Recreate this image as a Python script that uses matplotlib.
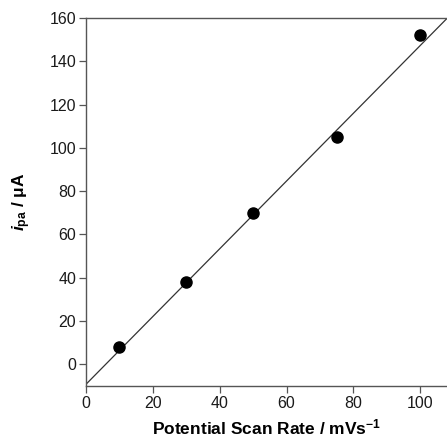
import matplotlib
matplotlib.use("Agg")
import matplotlib.pyplot as plt
import numpy as np

scan_rate = [10, 30, 50, 75, 100]
i_pa = [8, 38, 70, 105, 152]
fit_slope = 1.565
fit_intercept = -9.2
x_ticks = [0, 20, 40, 60, 80, 100]
y_ticks = [0, 20, 40, 60, 80, 100, 120, 140, 160]

plt.rcParams['font.family'] = ['Liberation Sans', 'DejaVu Sans']
plt.rcParams['mathtext.fontset'] = 'custom'
plt.rcParams['mathtext.rm'] = 'Liberation Sans:bold'
plt.rcParams['mathtext.it'] = 'Liberation Sans:italic:bold'

fig = plt.figure(figsize=(4.47, 4.40), dpi=100)
ax = fig.add_axes([86 / 447, 54 / 440, 1 - 86 / 447, 368 / 440])

# linear fit line + measured peaks
xfit = np.array([0, 108])
ax.plot(xfit, fit_slope * xfit + fit_intercept, color='#333333', lw=0.9, zorder=2)
ax.plot(scan_rate, i_pa, 'o', color='black', ms=8, zorder=3, clip_on=False)

ax.set_xlim(0, 108)
ax.set_ylim(-10, 160)
ax.set_xticks(x_ticks)
ax.set_yticks(y_ticks)
ax.spines['right'].set_visible(False)
for s in ['left', 'bottom', 'top']:
    ax.spines[s].set_color('#555555')
    ax.spines[s].set_linewidth(1.0)
ax.tick_params(direction='out', length=5, width=0.9, color='#555555',
               labelsize=11.5, labelcolor='#1a1a1a', pad=2)

ax.set_xlabel('Potential Scan Rate / mVs$^{-1}$', fontsize=12.5, fontweight='bold', labelpad=5)
ax.set_ylabel(r'$\mathit{i}_{\mathrm{pa}}$ / μA', fontsize=12.5, fontweight='bold', labelpad=12)

fig.savefig('out.png', dpi=100)
